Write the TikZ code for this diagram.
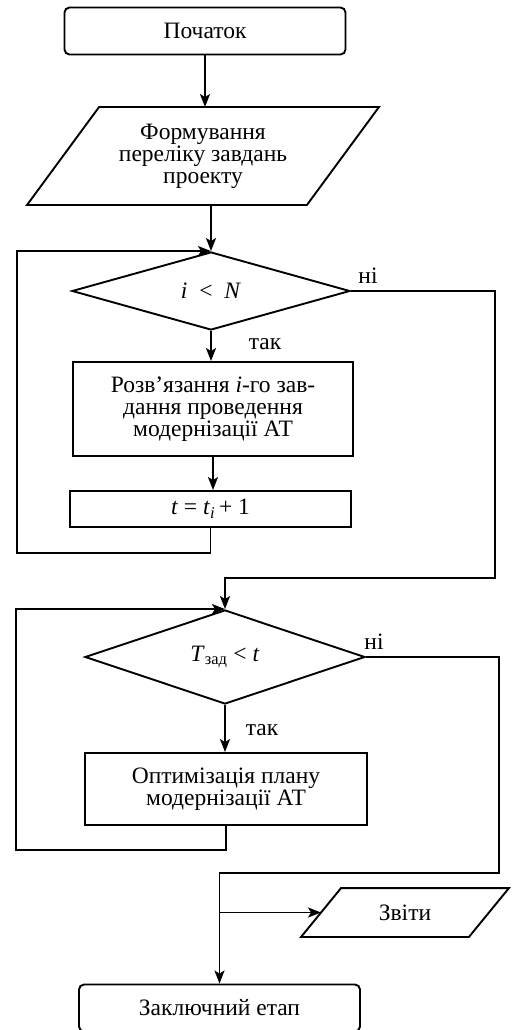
\documentclass[tikz,border=0pt]{standalone}
\usepackage{fontspec}
\setmainfont{Liberation Serif}
\usetikzlibrary{arrows.meta}
\usetikzlibrary{shapes.geometric}

\begin{document}
\begin{tikzpicture}[x=1pt,y=-1pt,line width=1.9pt,
    >={Stealth[length=13pt,width=10pt,inset=3pt]},
    font=\fontsize{23.5}{22}\selectfont,
    termbox/.style={draw,rectangle,rounded corners=5pt,minimum width=281pt,minimum height=47pt},
    procbox/.style={draw,rectangle,align=center,inner sep=0pt},
    decbox/.style={draw,diamond,inner sep=0pt},
    iobox/.style={rectangle,align=center,inner sep=0pt}]

  \useasboundingbox (0,0) rectangle (514,1030);

  \node [termbox] (Start) at (205,31) {Початок};
  \node [iobox,minimum width=350pt,minimum height=96pt] (Tasks) at (203,156) {Формування\\переліку завдань\\проекту};
  \node [decbox,minimum width=278pt,minimum height=78pt] (Cond1) at (211,291) {\textit{i}\enspace<\enspace\textit{N}};
  \node [procbox,minimum width=280pt,minimum height=94pt] (Solve) at (213,409) {Розв’язання \textit{i}-го зав-\\дання проведення\\модернізації АТ};
  \node [procbox,minimum width=281pt,minimum height=36pt] (Incr) at (210.5,509) {\textit{t} = \textit{t}\textsubscript{\textit{i}}\,+ 1};
  \node [decbox,minimum width=280pt,minimum height=94pt] (Cond2) at (225,657) {\textit{T}\textsubscript{зад} < \textit{t}};
  \node [procbox,minimum width=282pt,minimum height=72pt] (Optim) at (226,789) {Оптимізація плану\\модернізації АТ};
  \node [iobox,minimum width=206pt,minimum height=47pt] (Reports) at (405,912.5) {Звіти};
  \node [termbox] (Final) at (219.5,1008) {Заключний етап};

  \draw (Tasks.south west) -- ([xshift=72pt]Tasks.north west) -- (Tasks.north east)
    -- ([xshift=-72pt]Tasks.south east) -- cycle;
  \draw (Reports.south west) -- ([xshift=40pt]Reports.north west) -- (Reports.north east)
    -- ([xshift=-40pt]Reports.south east) -- cycle;

  \node (No1) at (368,276) {ні};
  \node (Yes1) at (265,344) {так};
  \node (No2) at (374,642) {ні};
  \node (Yes2) at (262,730) {так};

  \coordinate (Loop1) at (17,553);
  \coordinate (Skip1) at (495,578);
  \coordinate (Loop2) at (16,850);
  \coordinate (Skip2) at (499,873);
  \coordinate (RepIn) at ([xshift=20pt]Reports.west);

  \path [->]
    (Start.south)           edge (Start.south |- Tasks.north)
    (Cond1.north |- Tasks.south) edge (Cond1.north)
    (Cond1.south)           edge (Cond1.south |- Solve.north)
    (Solve.south)           edge (Solve.south |- Incr.north)
    (Cond2.south)           edge (Cond2.south |- Optim.north)
    (Final.north |- RepIn)  edge (RepIn);

  \draw [->] (Incr.south) |- (Loop1) |- (Cond1.north);
  \draw [->] (Cond1.east) -| (Skip1) -| (Cond2.north);
  \draw [->] (Optim.south) |- (Loop2) |- (Cond2.north);
  \draw [->] (Cond2.east) -| (Skip2) -| (Final.north);

\end{tikzpicture}
\end{document}
